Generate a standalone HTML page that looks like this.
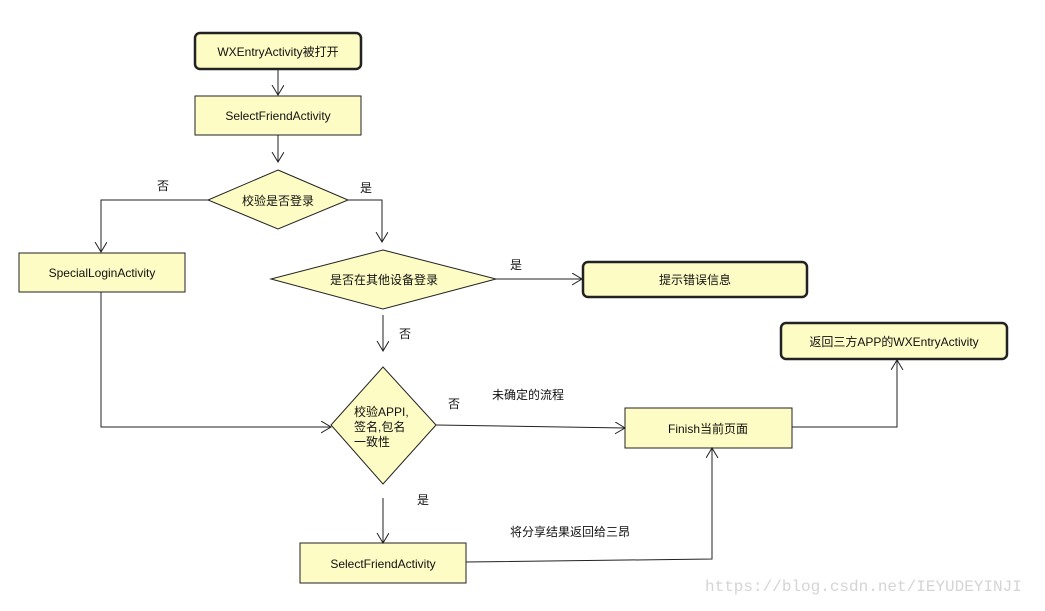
<!DOCTYPE html>
<html><head><meta charset="utf-8"><style>
body{margin:0;background:#fff}
svg text{font-family:"Liberation Sans","Noto Sans CJK SC",sans-serif;font-size:12px;fill:#111}
</style></head><body>
<svg width="1045" height="606" viewBox="0 0 1045 606" xmlns="http://www.w3.org/2000/svg">
<defs><marker id="a" markerWidth="14" markerHeight="14" refX="10" refY="6" orient="auto" markerUnits="userSpaceOnUse"><path d="M0,0 L10,6 L0,12" fill="none" stroke="#222" stroke-width="1"/></marker></defs>
<g fill="#fdfcc4" stroke="#222">
<rect x="195" y="33" width="166" height="36" rx="5" stroke-width="2.5"/>
<rect x="195" y="96" width="166" height="39" stroke-width="1"/>
<polygon points="278,170 348,200 278,229 208,200" stroke-width="1"/>
<rect x="19" y="253" width="166" height="39" stroke-width="1"/>
<polygon points="383,250 496,279 383,309 271,279" stroke-width="1"/>
<rect x="583" y="262" width="224" height="35" rx="5" stroke-width="2.5"/>
<polygon points="383,367 436,425 383,484 331,425" stroke-width="1"/>
<rect x="625" y="408" width="167" height="40" stroke-width="1"/>
<rect x="300" y="543" width="166" height="40" stroke-width="1"/>
<rect x="781" y="323" width="226" height="36" rx="5" stroke-width="2.5"/>
</g>
<g fill="none" stroke="#222" stroke-width="1" marker-end="url(#a)">
<path d="M278,69 V95"/>
<path d="M278,135 V162"/>
<path d="M208,200 H101 V252"/>
<path d="M348,200 H382 V242"/>
<path d="M496,279 H582"/>
<path d="M383,315 V351"/>
<path d="M101,292 V427 H331"/>
<path d="M436,425 L625,428"/>
<path d="M383,498 V543"/>
<path d="M466,562 L712,559 V448"/>
<path d="M792,427 H897 V360"/>
</g>
<g text-anchor="middle">
<text x="278" y="56">WXEntryActivity被打开</text>
<text x="278" y="120">SelectFriendActivity</text>
<text x="278" y="205">校验是否登录</text>
<text x="102" y="277">SpecialLoginActivity</text>
<text x="384" y="284">是否在其他设备登录</text>
<text x="695" y="284">提示错误信息</text>
<text x="894" y="346">返回三方APP的WXEntryActivity</text>
<text x="708" y="433">Finish当前页面</text>
<text x="383" y="568">SelectFriendActivity</text>
<text x="163" y="190">否</text>
<text x="366" y="192">是</text>
<text x="516" y="269">是</text>
<text x="405" y="338">否</text>
<text x="454" y="408">否</text>
<text x="528" y="399">未确定的流程</text>
<text x="423" y="504">是</text>
<text x="570" y="536">将分享结果返回给三昂</text>
</g>
<text x="354" y="416">校验APPI,</text>
<text x="354" y="431">签名,包名</text>
<text x="354" y="446">一致性</text>
<text x="705" y="591" style="font-family:'Liberation Mono',monospace;font-size:16px;fill:#d4d4d4">https://blog.csdn.net/IEYUDEYINJI</text>
</svg>
</body></html>
